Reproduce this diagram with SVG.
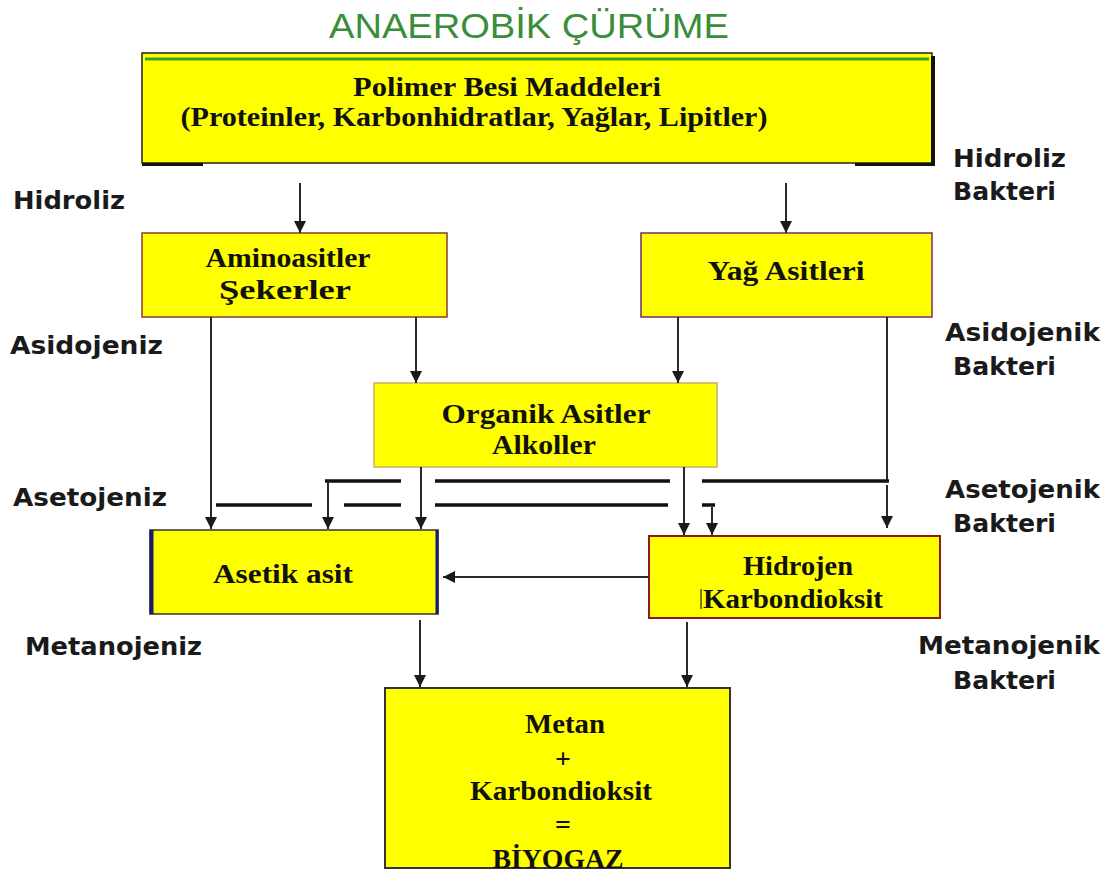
<svg xmlns="http://www.w3.org/2000/svg" width="1115" height="874" viewBox="0 0 1115 874">
<defs>
<marker id="ah" viewBox="0 0 10 10" refX="10" refY="5" markerWidth="12" markerHeight="12" markerUnits="userSpaceOnUse" orient="auto">
<path d="M0,0 L10,5 L0,10 z" fill="#1a1a1a"/>
</marker>
</defs>
<style>
.box{fill:#ffff00;}
.t{font-family:"Liberation Serif","Times New Roman",serif;font-weight:bold;font-size:28px;fill:#111;}
.lab{font-family:"DejaVu Sans",Verdana,sans-serif;font-weight:bold;font-size:24px;fill:#1a1a1a;}
.c{stroke:#2a2a2a;stroke-width:2;fill:none;}
.ca{stroke:#2a2a2a;stroke-width:2;fill:none;marker-end:url(#ah);}
.h{stroke:#111;stroke-width:3.5;fill:none;}
</style>
<rect width="1115" height="874" fill="#ffffff"/>
<text x="529" y="38" text-anchor="middle" textLength="400" lengthAdjust="spacingAndGlyphs" font-family="'Liberation Sans',Arial,sans-serif" font-size="35" fill="#3a8d3a">ANAEROBİK ÇÜRÜME</text>

<g id="labels">
<text class="lab" x="13" y="209" textLength="112" lengthAdjust="spacingAndGlyphs">Hidroliz</text>
<text class="lab" x="10" y="354" textLength="153" lengthAdjust="spacingAndGlyphs">Asidojeniz</text>
<text class="lab" x="13" y="506" textLength="154" lengthAdjust="spacingAndGlyphs">Asetojeniz</text>
<text class="lab" x="25" y="655" textLength="177" lengthAdjust="spacingAndGlyphs">Metanojeniz</text>
<text class="lab" x="953" y="167" textLength="113" lengthAdjust="spacingAndGlyphs">Hidroliz</text>
<text class="lab" x="953" y="200" textLength="103" lengthAdjust="spacingAndGlyphs">Bakteri</text>
<text class="lab" x="945" y="341" textLength="155" lengthAdjust="spacingAndGlyphs">Asidojenik</text>
<text class="lab" x="953" y="375" textLength="103" lengthAdjust="spacingAndGlyphs">Bakteri</text>
<text class="lab" x="945" y="498" textLength="155" lengthAdjust="spacingAndGlyphs">Asetojenik</text>
<text class="lab" x="953" y="532" textLength="103" lengthAdjust="spacingAndGlyphs">Bakteri</text>
<text class="lab" x="918" y="654" textLength="182" lengthAdjust="spacingAndGlyphs">Metanojenik</text>
<text class="lab" x="953" y="689" textLength="103" lengthAdjust="spacingAndGlyphs">Bakteri</text>
</g>

<g id="node-polimer">
<rect class="box" x="142" y="53" width="790" height="110" stroke="#222" stroke-width="1.5"/>
<line x1="145" y1="59" x2="929" y2="59" stroke="#3aa02a" stroke-width="3"/>
<line x1="933" y1="56" x2="933" y2="166" stroke="#111" stroke-width="4"/>
<line x1="142" y1="164.5" x2="203" y2="164.5" stroke="#111" stroke-width="3"/>
<line x1="855" y1="164.5" x2="935" y2="164.5" stroke="#111" stroke-width="3"/>
<text class="t" x="507" y="96" text-anchor="middle" textLength="308" lengthAdjust="spacingAndGlyphs">Polimer Besi Maddeleri</text>
<text class="t" x="474" y="126" text-anchor="middle" textLength="587" lengthAdjust="spacingAndGlyphs">(Proteinler, Karbonhidratlar, Yağlar, Lipitler)</text>
</g>

<g id="node-amino">
<rect class="box" x="142" y="233" width="305" height="84" stroke="#8a3a3a" stroke-width="1.5"/>
<text class="t" x="288" y="267" text-anchor="middle" textLength="165" lengthAdjust="spacingAndGlyphs">Aminoasitler</text>
<text class="t" x="285" y="299" text-anchor="middle" textLength="132" lengthAdjust="spacingAndGlyphs">Şekerler</text>
</g>

<g id="node-yag">
<rect class="box" x="641" y="233" width="291" height="84" stroke="#7a2a6a" stroke-width="1.5"/>
<text class="t" x="786" y="280" text-anchor="middle" textLength="157" lengthAdjust="spacingAndGlyphs">Yağ Asitleri</text>
</g>

<g id="node-organik">
<rect class="box" x="374" y="383" width="343" height="84" stroke="#c8b060" stroke-width="1.5"/>
<text class="t" x="546" y="423" text-anchor="middle" textLength="209" lengthAdjust="spacingAndGlyphs">Organik Asitler</text>
<text class="t" x="544" y="454" text-anchor="middle" textLength="104" lengthAdjust="spacingAndGlyphs">Alkoller</text>
</g>

<g id="node-asetik">
<rect class="box" x="150" y="530" width="288" height="84" stroke="#333" stroke-width="1.5"/>
<line x1="151.5" y1="530" x2="151.5" y2="614" stroke="#1a1a6a" stroke-width="4"/>
<line x1="437" y1="530" x2="437" y2="614" stroke="#1a1a6a" stroke-width="3"/>
<text class="t" x="283" y="583" text-anchor="middle" textLength="140" lengthAdjust="spacingAndGlyphs">Asetik asit</text>
</g>

<g id="node-hidrojen">
<rect class="box" x="649" y="536" width="291" height="82" stroke="#8b1a1a" stroke-width="2"/>
<text class="t" x="798" y="575" text-anchor="middle" textLength="110" lengthAdjust="spacingAndGlyphs">Hidrojen</text>
<line x1="701" y1="589" x2="701" y2="609" stroke="#222" stroke-width="1.2"/>
<text class="t" x="793" y="608" text-anchor="middle" textLength="180" lengthAdjust="spacingAndGlyphs">Karbondioksit</text>
</g>

<g id="node-biyogaz">
<rect class="box" x="385" y="688" width="345" height="180" stroke="#333" stroke-width="2"/>
<text class="t" x="565" y="733" text-anchor="middle" textLength="80" lengthAdjust="spacingAndGlyphs">Metan</text>
<text class="t" x="563" y="768" text-anchor="middle" font-size="32">+</text>
<text class="t" x="561" y="800" text-anchor="middle" textLength="182" lengthAdjust="spacingAndGlyphs">Karbondioksit</text>
<text class="t" x="563" y="834" text-anchor="middle" font-size="32">=</text>
<text class="t" x="558" y="868" text-anchor="middle" textLength="131" lengthAdjust="spacingAndGlyphs">BİYOGAZ</text>
</g>

<g id="connectors">
<line class="ca" x1="300" y1="183" x2="300" y2="233"/>
<line class="ca" x1="786" y1="183" x2="786" y2="233"/>
<line class="ca" x1="416" y1="317" x2="416" y2="383"/>
<line class="ca" x1="678" y1="317" x2="678" y2="383"/>
<line class="ca" x1="211" y1="317" x2="211" y2="529"/>
<line class="c" x1="887" y1="317" x2="887" y2="481"/>
<line class="ca" x1="887" y1="485" x2="887" y2="528"/>
<path class="h" d="M325,481 H401 M435,481 H670 M702,481 H889"/>
<path class="h" d="M216,505 H312 M344,505 H401 M435,505 H668 M702,505 H715"/>
<line class="ca" x1="328" y1="481" x2="328" y2="529"/>
<line class="ca" x1="421" y1="467" x2="421" y2="529"/>
<line class="ca" x1="684" y1="467" x2="684" y2="535"/>
<line class="ca" x1="712" y1="507" x2="712" y2="535"/>
<line class="ca" x1="649" y1="577" x2="443" y2="577"/>
<line class="ca" x1="420" y1="620" x2="420" y2="687"/>
<line class="ca" x1="687" y1="622" x2="687" y2="687"/>
</g>
</svg>
